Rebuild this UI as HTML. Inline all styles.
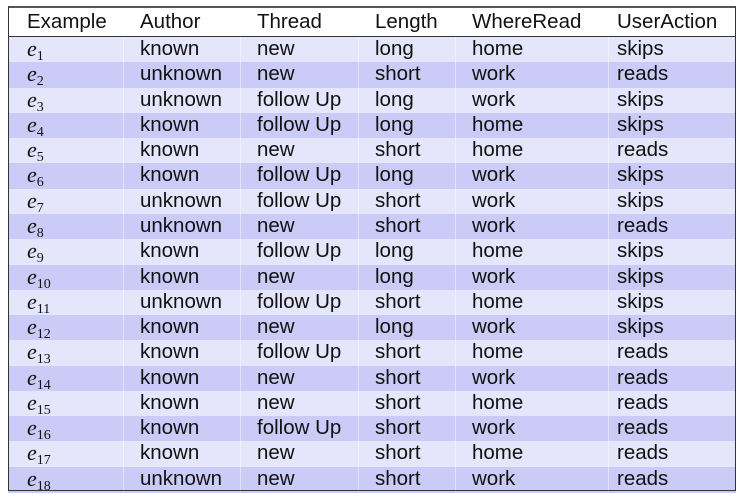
<!DOCTYPE html>
<html><head><meta charset="utf-8"><style>
body{margin:0;width:744px;height:500px;background:#fff;position:relative;font-family:"Liberation Sans",sans-serif;overflow:hidden}
#t{position:absolute;left:8px;top:6px;width:728px;height:485px;border:1px solid #333;border-top:2px solid #555;box-sizing:border-box}
.row{position:absolute;left:8px;width:728px;height:26px}
.c{position:absolute;font-size:20.5px;line-height:25px;color:#111;white-space:nowrap}
.e{font-family:"Liberation Serif",serif;font-style:italic;font-size:22px}
.e sub{font-style:normal;font-size:14px;vertical-align:-4px}
.sep{position:absolute;top:37px;height:455px;width:1px;background:rgba(255,255,255,0.45)}
</style></head><body>
<div id="hdr" style="position:absolute;left:8px;top:36px;width:728px;height:1px;background:#333"></div>
<div id="rows"></div>
<div id="t"></div>
<script>
var d=[["known","new","long","home","skips"],["unknown","new","short","work","reads"],["unknown","follow Up","long","work","skips"],["known","follow Up","long","home","skips"],["known","new","short","home","reads"],["known","follow Up","long","work","skips"],["unknown","follow Up","short","work","skips"],["unknown","new","short","work","reads"],["known","follow Up","long","home","skips"],["known","new","long","work","skips"],["unknown","follow Up","short","home","skips"],["known","new","long","work","skips"],["known","follow Up","short","home","reads"],["known","new","short","work","reads"],["known","new","short","home","reads"],["known","follow Up","short","work","reads"],["known","new","short","home","reads"],["unknown","new","short","work","reads"]];
var xs=[27,140,257,375,472,617],h="";
var hd=["Example","Author","Thread","Length","WhereRead","UserAction"];
for(var j=0;j<6;j++)h+='<div class="c" style="left:'+xs[j]+'px;top:9px">'+hd[j]+'</div>';
for(var i=0;i<18;i++){var y=37+i*25.28;
h+='<div class="row" style="top:'+y+'px;background:'+(i%2?'#cbcbf8':'#e5e5fb')+'"></div>';
h+='<div class="c e" style="left:'+xs[0]+'px;top:'+(y-1)+'px">e<sub>'+(i+1)+'</sub></div>';
for(var j=0;j<5;j++)h+='<div class="c" style="left:'+xs[j+1]+'px;top:'+(y-1)+'px">'+d[i][j]+'</div>';}
[123,240,358,455,608].forEach(function(x){h+='<div class="sep" style="left:'+x+'px"></div>'});
document.getElementById("rows").innerHTML=h;
</script>
</body></html>
